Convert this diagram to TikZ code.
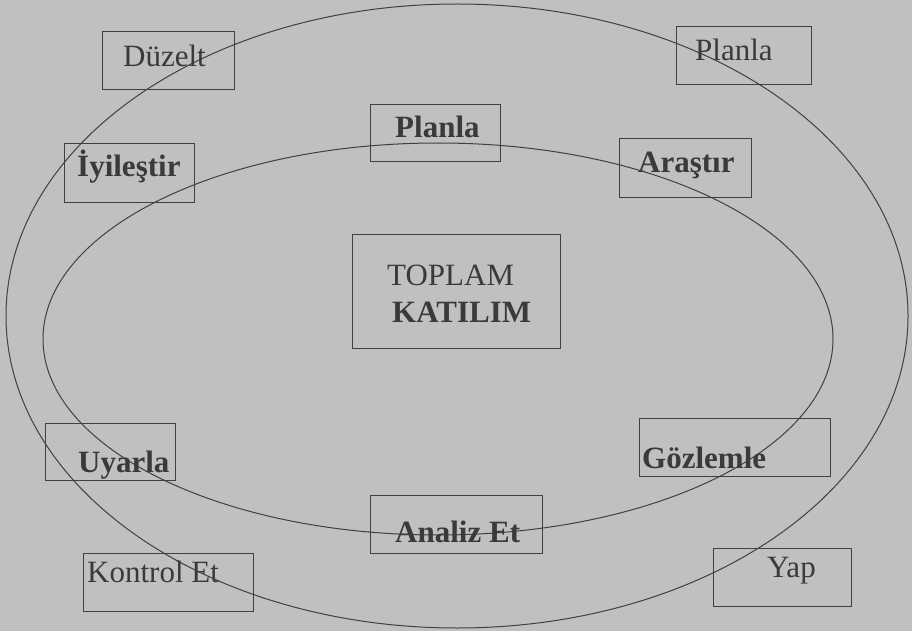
\documentclass[tikz,border=0pt]{standalone}
\usepackage{fontspec}
\setmainfont{Liberation Serif}
\definecolor{bgc}{RGB}{192,192,192}
\definecolor{ink}{RGB}{58,58,58}
\definecolor{linec}{RGB}{64,64,64}
\begin{document}
\begin{tikzpicture}[x=1pt,y=-1pt,
  frame/.style={draw=linec,line width=1pt,rectangle,inner sep=0pt},
  txt/.style={anchor=base west,inner sep=0pt,text=ink,font=\fontsize{31}{37}\selectfont},
  btxt/.style={txt,font=\fontsize{31}{37}\selectfont\bfseries},
  ring/.style={draw=linec,line width=1pt}]
\useasboundingbox (0,0) rectangle (912,631);
\fill[bgc] (0,0) rectangle (912,631);
% ellipses
\draw[ring] (457,316) ellipse [x radius=451pt, y radius=312pt];
\draw[ring] (438,339) ellipse [x radius=395pt, y radius=196pt];
% boxes
\node[frame,minimum width=132pt,minimum height=58pt] (bduz) at (168,61) {};
\node[frame,minimum width=130pt,minimum height=58pt] (biyi) at (129,173) {};
\node[frame,minimum width=135pt,minimum height=58pt] (bpl1) at (743.5,56) {};
\node[frame,minimum width=132pt,minimum height=58pt] (bara) at (685,168) {};
\node[frame,minimum width=130pt,minimum height=57pt] (bpl2) at (435,133.5) {};
\node[frame,minimum width=208pt,minimum height=114pt] (btop) at (456,291) {};
\node[frame,minimum width=130pt,minimum height=57pt] (buya) at (110,451.5) {};
\node[frame,minimum width=170pt,minimum height=58pt] (bkon) at (168,582) {};
\node[frame,minimum width=191pt,minimum height=58pt] (bgoz) at (734.5,447) {};
\node[frame,minimum width=138pt,minimum height=58pt] (byap) at (782,577) {};
\node[frame,minimum width=172pt,minimum height=58pt] (bana) at (456,524) {};
% texts
\node[txt] (tduz) at (123,67) {Düzelt};
\node[btxt] (tiyi) at (77,177) {İyileştir};
\node[txt] (tpl1) at (695,61) {Planla};
\node[btxt] (tara) at (638,173) {Araştır};
\node[btxt] (tpl2) at (395,138) {Planla};
\node[txt] (ttop) at (387,285) {TOPLAM};
\node[btxt] (tkat) at (392,322) {KATILIM};
\node[btxt] (tuya) at (78,472) {Uyarla};
\node[txt] (tkon) at (87,582) {Kontrol Et};
\node[btxt] (tgoz) at (642,468) {Gözlemle};
\node[txt] (tyap) at (767,577) {Yap};
\node[btxt] (tana) at (395,542) {Analiz Et};
\end{tikzpicture}
\end{document}
